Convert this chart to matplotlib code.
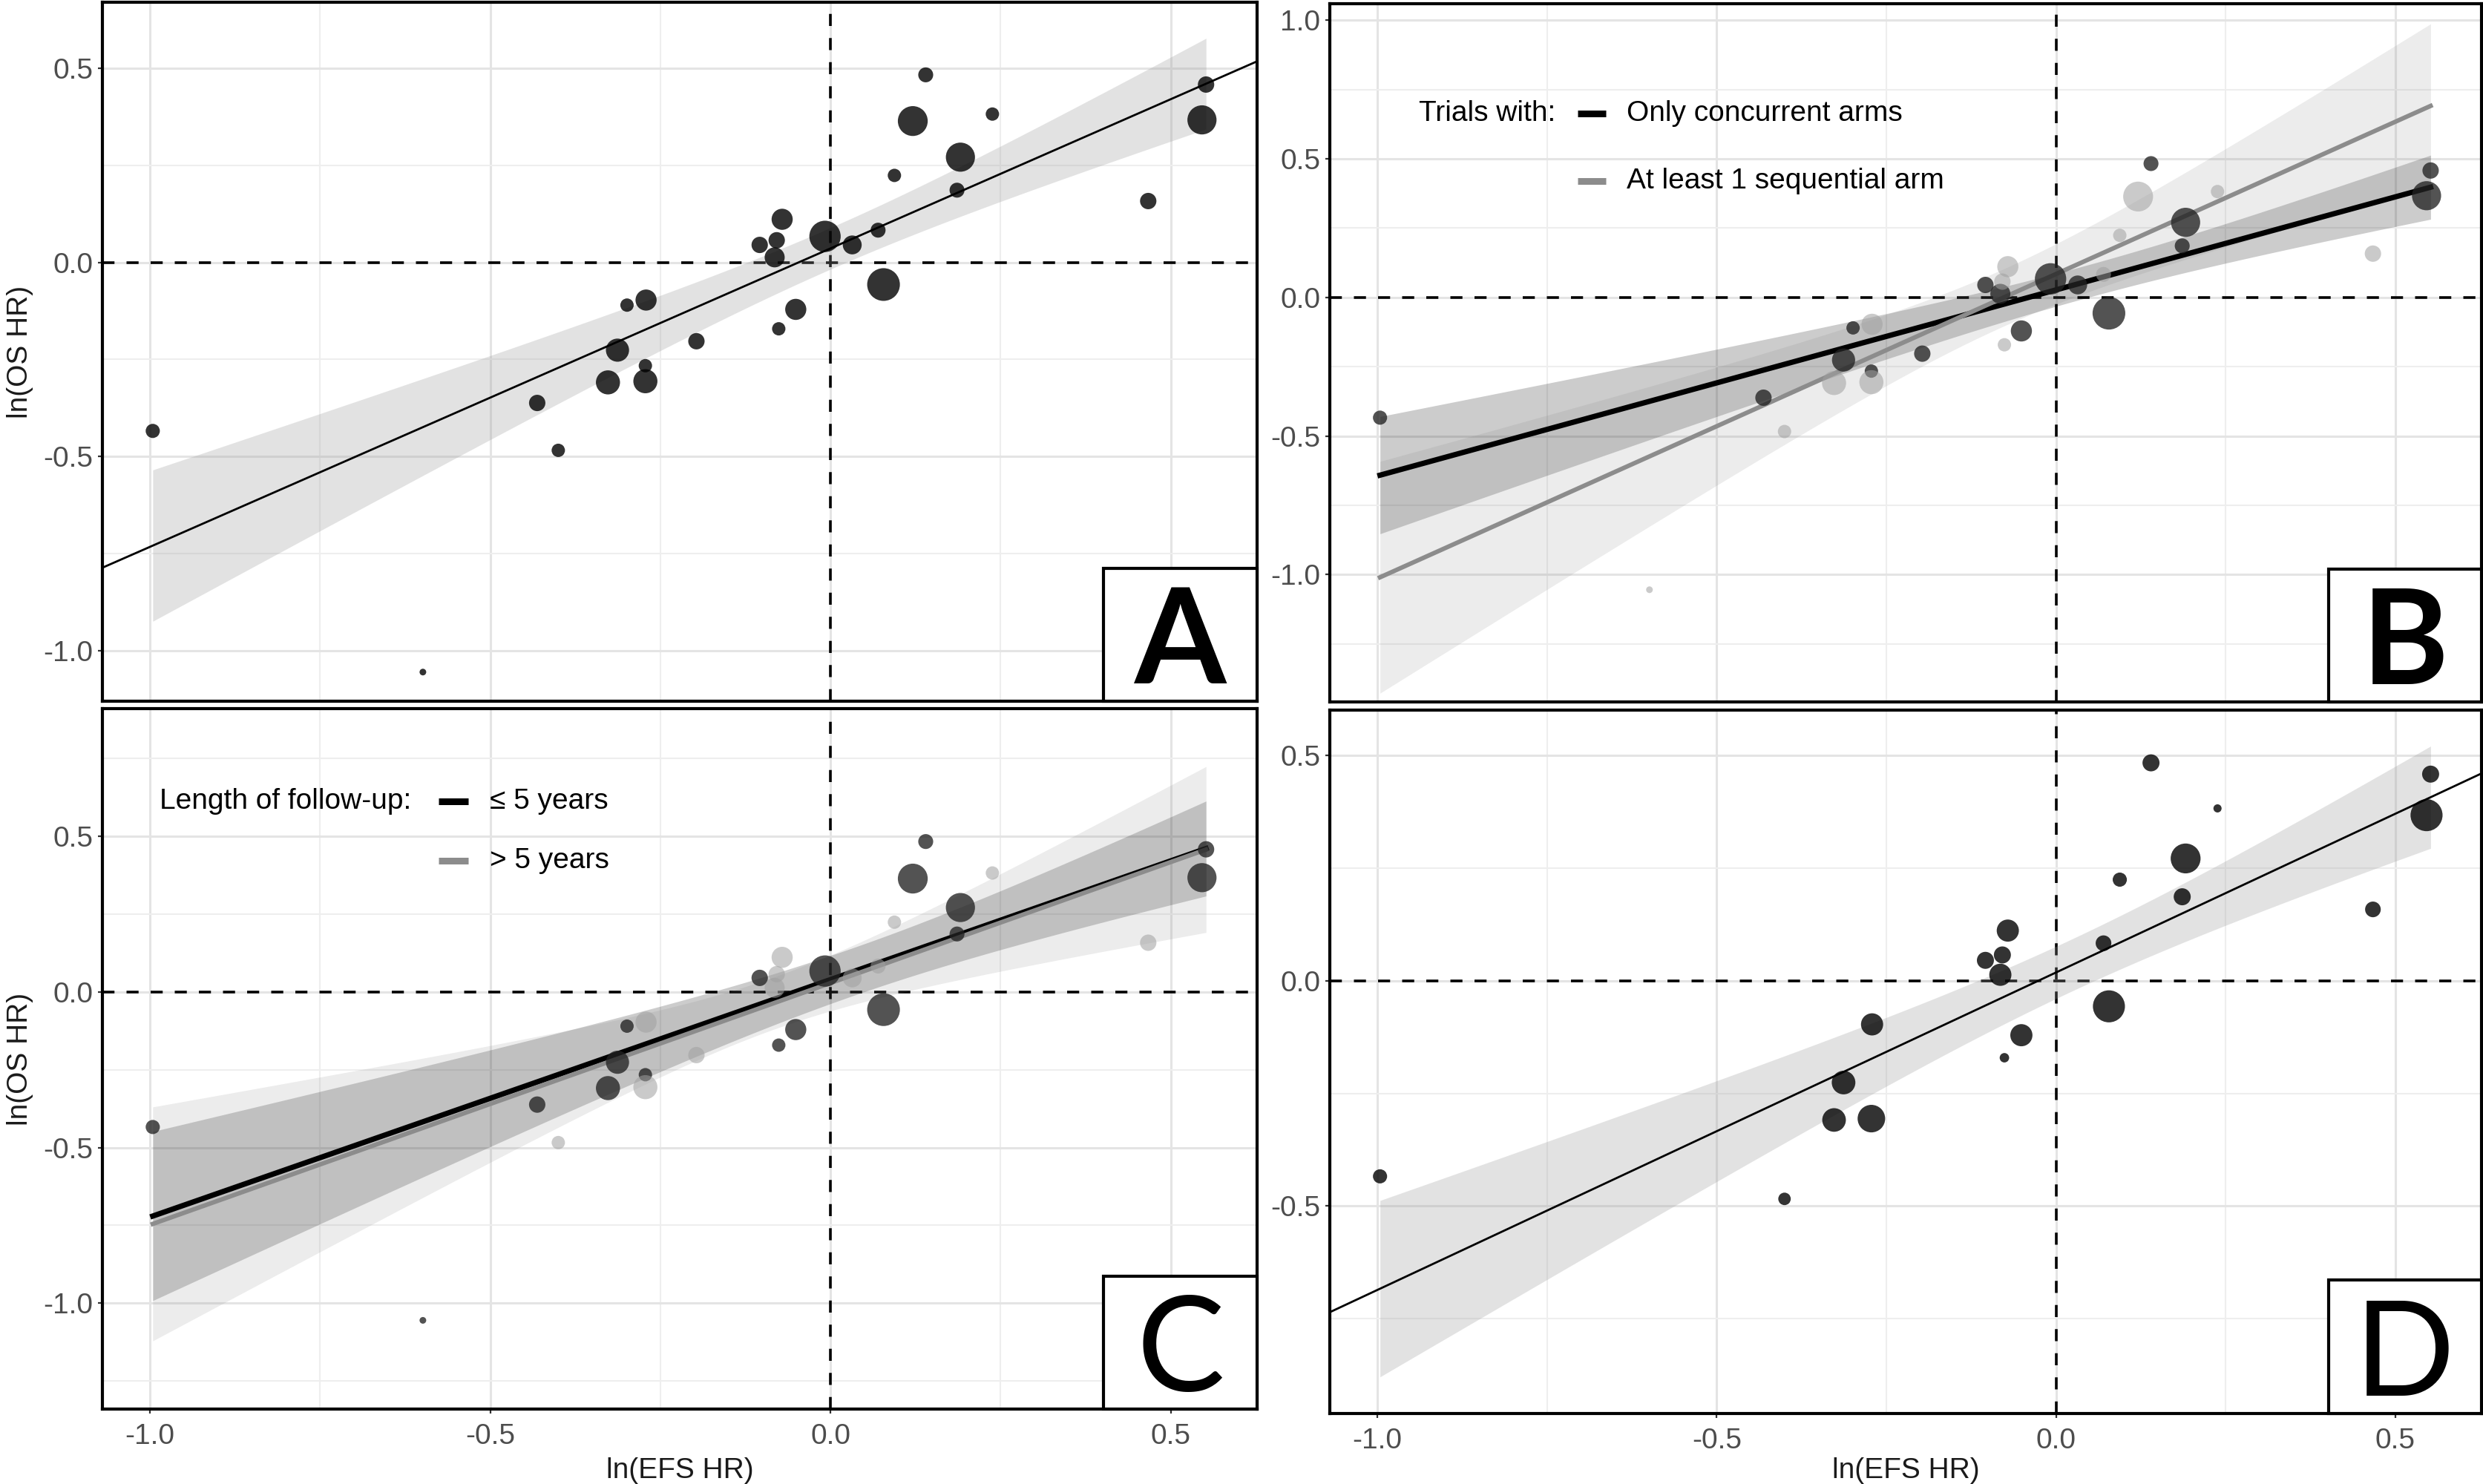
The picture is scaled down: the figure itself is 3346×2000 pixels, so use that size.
import matplotlib
matplotlib.use("Agg")
import matplotlib.pyplot as plt
import numpy as np
from matplotlib.patches import Rectangle
from matplotlib.ticker import MultipleLocator, FormatStrFormatter

plt.rcParams['font.family'] = ['Liberation Sans', 'DejaVu Sans']
plt.rcParams['axes.unicode_minus'] = False

# one entry per trial: ln(EFS HR), ln(OS HR), relative trial weight (marker area)
ln_efs = np.array([-0.996, -0.599, -0.431, -0.400, -0.299, -0.271, -0.313, -0.327, -0.272, -0.272,
                   -0.197, -0.076, -0.051, -0.104, -0.079, -0.071, -0.082, -0.008, 0.032, 0.070,
                   0.078, 0.094, 0.121, 0.140, 0.191, 0.186, 0.238, 0.467, 0.552, 0.546])
ln_os = np.array([-0.434, -1.055, -0.362, -0.484, -0.110, -0.097, -0.226, -0.309, -0.266, -0.306,
                  -0.203, -0.171, -0.121, 0.045, 0.057, 0.111, 0.013, 0.067, 0.045, 0.083,
                  -0.057, 0.224, 0.364, 0.483, 0.271, 0.186, 0.382, 0.158, 0.458, 0.367])
weight = np.array([4.5, 1, 6, 4, 4, 10, 12, 13, 4, 13,
                   6, 4, 10, 6, 6, 10, 9, 22, 8, 5,
                   24, 4, 20, 5, 19, 5, 4, 6, 6, 19])

# panel B grouping: 1 = trial with at least 1 sequential arm
sequential = np.array([0, 1, 0, 1, 0, 1, 0, 1, 0, 1,
                       0, 1, 0, 0, 1, 1, 0, 0, 0, 1,
                       0, 1, 1, 0, 0, 0, 1, 1, 0, 0])
# panel C grouping: 1 = follow-up longer than 5 years
long_fu = np.array([0, 0, 0, 1, 0, 1, 0, 0, 0, 1,
                    1, 0, 0, 0, 1, 1, 1, 0, 1, 1,
                    0, 1, 0, 0, 0, 0, 1, 1, 0, 0])
# panel D: subset of trials and their weights
in_d = np.array([1, 0, 0, 1, 0, 1, 1, 1, 0, 1,
                 0, 1, 1, 1, 1, 1, 1, 0, 0, 1,
                 1, 1, 0, 1, 1, 1, 1, 1, 1, 1]).astype(bool)
d_weight = np.array([4.5, 3.5, 11, 12.5, 12.5, 17, 2, 11, 6.5, 6.5, 11,
                     11, 5.5, 23, 4.5, 6.5, 20, 6.5, 1.5, 5.5, 6.5, 23])

legend_b = ['Only concurrent arms', 'At least 1 sequential arm']
legend_c = ['\u2264 5 years', '> 5 years']

XLIM = (-1.07, 0.627)
W, H = 3346, 2000
SIZE_K = 42
DARK, LIGHT = '#000000', '#8c8c8c'


def lm_weight(w):
    # marker diameter grows with sqrt of the rescaled weight (ggplot size scale),
    # so undo that to get the weights used by the regression
    d = 9 * np.sqrt(w)
    r = np.clip((d - 8) / 36, 0, 1) ** 2
    return r + 0.05


def wls(x, y, w):
    X = np.column_stack([np.ones_like(x), x])
    xtwx = X.T @ (X * w[:, None])
    beta = np.linalg.solve(xtwx, X.T @ (w * y))
    res = y - X @ beta
    sigma2 = np.sum(w * res ** 2) / (len(x) - 2)
    return beta, sigma2 * np.linalg.inv(xtwx)


def t_crit(df):
    z = 1.959964
    return z + (z ** 3 + z) / (4 * df) + (5 * z ** 5 + 16 * z ** 3 + 3 * z) / (96 * df ** 2)


def smooth(x, y, w, grid):
    beta, cov = wls(x, y, lm_weight(w))
    G = np.column_stack([np.ones_like(grid), grid])
    fit = G @ beta
    se = np.sqrt(np.einsum('ij,jk,ik->i', G, cov, G))
    t = t_crit(len(x) - 2)
    return fit, fit - t * se, fit + t * se


fig = plt.figure(figsize=(W / 100, H / 100), dpi=100)


def px_axes(l, r, t, b):
    return fig.add_axes([l / W, 1 - b / H, (r - l) / W, (b - t) / H])


def dress(ax, ylim, letter, bold, show_x):
    ax.set_xlim(XLIM)
    ax.set_ylim(ylim)
    for axis in (ax.xaxis, ax.yaxis):
        axis.set_major_locator(MultipleLocator(0.5))
        axis.set_minor_locator(MultipleLocator(0.25))
        axis.set_major_formatter(FormatStrFormatter('%.1f'))
    ax.grid(which='major', color='#e4e4e4', lw=2.2)
    ax.grid(which='minor', color='#eeeeee', lw=1.5)
    ax.set_axisbelow(True)
    ax.tick_params(which='minor', length=0)
    ax.tick_params(which='major', length=4, width=1.6, color='#333333',
                   labelsize=28, labelcolor='#4d4d4d')
    ax.tick_params(axis='y', pad=5)
    ax.tick_params(axis='x', pad=10)
    if not show_x:
        ax.tick_params(axis='x', labelbottom=False, length=0)
    for sp in ax.spines.values():
        sp.set_linewidth(3)
        sp.set_color('black')
    ax.axhline(0, color='black', lw=2.6, ls=(0, (4.5, 4.5)), zorder=1.5)
    ax.axvline(0, color='black', lw=2.6, ls=(0, (4.5, 4.5)), zorder=1.5)
    ax.add_patch(Rectangle((0.867, 0), 0.133, 0.19, transform=ax.transAxes,
                           fc='white', ec='black', lw=3, zorder=10, clip_on=False))
    ax.text(0.9335, 0.025, letter, transform=ax.transAxes, ha='center', va='baseline',
            fontsize=128, family=['Lato', 'DejaVu Sans'],
            fontweight='bold' if bold else 'normal', zorder=11)


def single_panel(ax, x, y, w):
    grid = np.linspace(x.min(), x.max(), 200)
    fit, lo, hi = smooth(x, y, w, grid)
    ax.fill_between(grid, lo, hi, color='#999999', alpha=0.28, lw=0, zorder=2)
    edge = np.array(XLIM)
    efit, _, _ = smooth(x, y, w, edge)
    ax.plot(edge, efit, color='black', lw=2.0, zorder=2.5)
    ax.scatter(x, y, s=SIZE_K * w, color='black', alpha=0.8, lw=0, zorder=3)


def grouped_panel(ax, group):
    grid = np.linspace(ln_efs.min(), ln_efs.max(), 200)
    fills = [('#000000', 0.2), ('#808080', 0.15)]
    lines = [(DARK, 5.2), (LIGHT, 4.3)]
    fits = []
    for g in (0, 1):
        m = group == g
        fit, lo, hi = smooth(ln_efs[m], ln_os[m], weight[m], grid)
        ax.fill_between(grid, lo, hi, color=fills[g][0], alpha=fills[g][1], lw=0, zorder=2)
        fits.append(fit)
    for g in (0, 1):
        ax.plot(grid, fits[g], color=lines[g][0], lw=lines[g][1], zorder=2.5)
    pcol = ['#222222', '#a0a0a0']
    palpha = [0.78, 0.55]
    for g in (0, 1):
        m = group == g
        ax.scatter(ln_efs[m], ln_os[m], s=SIZE_K * weight[m], color=pcol[g],
                   alpha=palpha[g], lw=0, zorder=3)


def legend(ax, title, labels, x_title, x_key, x_text, ys):
    ax.text(x_title, ys[0], title, transform=ax.transAxes, fontsize=28, va='center', zorder=5)
    for lab, col, y in zip(labels, [DARK, LIGHT], ys):
        ax.plot(x_key, [y, y], transform=ax.transAxes, color=col, lw=6.5,
                solid_capstyle='butt', zorder=5)
        ax.text(x_text, y, lab, transform=ax.transAxes, fontsize=28, va='center', zorder=5)


axA = px_axes(138, 1694, 3, 945)
single_panel(axA, ln_efs, ln_os, weight.astype(float))
dress(axA, (-1.13, 0.67), 'A', True, False)

axB = px_axes(1792, 3344, 5, 946)
grouped_panel(axB, sequential)
dress(axB, (-1.46, 1.06), 'B', True, False)
legend(axB, 'Trials with:', legend_b, 0.077, [0.215, 0.240], 0.2577, [0.843, 0.746])

axC = px_axes(138, 1694, 955, 1899)
grouped_panel(axC, long_fu)
dress(axC, (-1.34, 0.91), 'C', False, True)
legend(axC, 'Length of follow-up:', legend_c, 0.0495, [0.291, 0.317], 0.3355, [0.868, 0.783])

axD = px_axes(1792, 3344, 957, 1905)
single_panel(axD, ln_efs[in_d], ln_os[in_d], d_weight)
dress(axD, (-0.96, 0.60), 'D', False, True)

fig.text(27 / W, 1 - 474 / H, 'ln(OS HR)', rotation=90, ha='center', va='center', fontsize=28, color='#1a1a1a')
fig.text(27 / W, 1 - 1427 / H, 'ln(OS HR)', rotation=90, ha='center', va='center', fontsize=28, color='#1a1a1a')
fig.text(916 / W, 1 - 1982 / H, 'ln(EFS HR)', ha='center', va='center', fontsize=28, color='#1a1a1a')
fig.text(2568 / W, 1 - 1982 / H, 'ln(EFS HR)', ha='center', va='center', fontsize=28, color='#1a1a1a')

fig.savefig('out.png', dpi=100, facecolor='white')
